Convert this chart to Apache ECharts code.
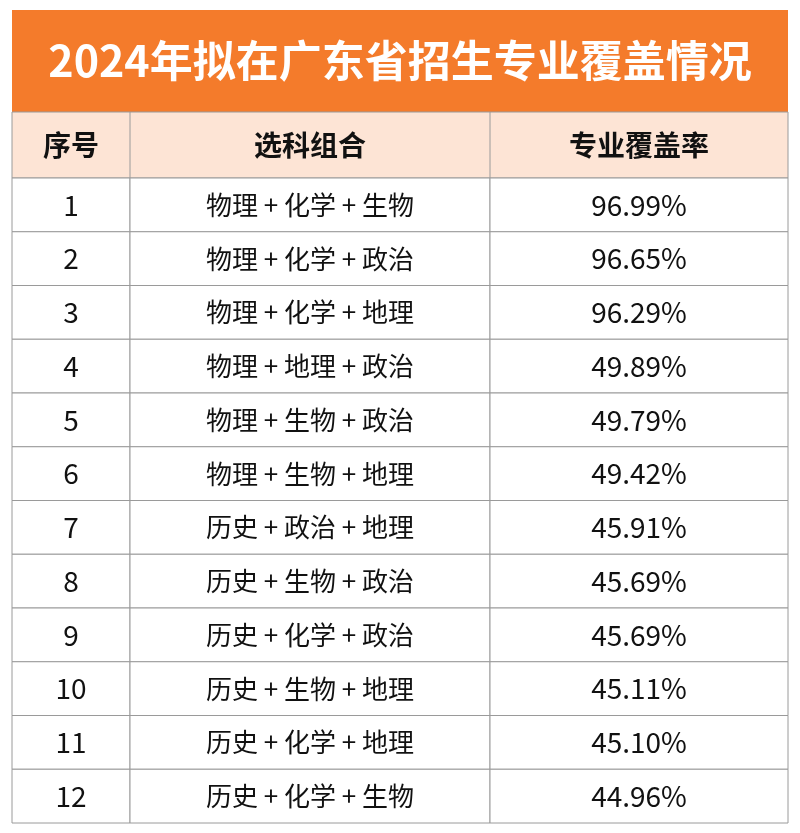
<!DOCTYPE html>
<html><head><meta charset="utf-8">
<script src="https://cdn.jsdelivr.net/npm/echarts@6/dist/echarts.min.js"></script>
<style>html,body{margin:0;background:#fff}#c{width:800px;height:833px}</style>
</head><body><div id="c"></div>
<script>
const title = '2024年拟在广东省招生专业覆盖情况';
const headers = ['序号', '选科组合', '专业覆盖率'];
const ids = ['1','2','3','4','5','6','7','8','9','10','11','12'];
const combos = ['物理+化学+生物','物理+化学+政治','物理+化学+地理','物理+地理+政治','物理+生物+政治','物理+生物+地理','历史+政治+地理','历史+生物+政治','历史+化学+政治','历史+生物+地理','历史+化学+地理','历史+化学+生物'];
const rates = [96.99, 96.65, 96.29, 49.89, 49.79, 49.42, 45.91, 45.69, 45.69, 45.11, 45.10, 44.96];

const colEdges = [0, 118, 478, 776];
const font = '"Noto Sans CJK SC", sans-serif';
const chart = echarts.init(document.getElementById('c'));
const L = 12, R = 788, T = 10, TB = 112, HB = 178;
const headerCenters = [0,1,2].map(i => L + (colEdges[i] + colEdges[i+1]) / 2);

chart.setOption({
  animation: false,
  grid: { left: L, right: 800 - R, top: HB, bottom: 10 },
  xAxis: { type: 'value', min: 0, max: 776, show: false },
  yAxis: { type: 'category', data: ids, inverse: true, show: false },
  graphic: [
    { type: 'rect', shape: { x: L, y: T, width: R - L, height: TB - T }, style: { fill: '#f47b2b' } },
    { type: 'text', x: 400, y: (T + TB) / 2, style: { text: title, fill: '#fff', font: 'bold 43px ' + font, textAlign: 'center', textVerticalAlign: 'middle' } },
    { type: 'rect', shape: { x: L, y: TB, width: R - L, height: HB - TB }, style: { fill: '#fde4d5', stroke: '#9a9a9a', lineWidth: 1 } },
    ...[1,2].map(i => ({ type: 'line', shape: { x1: L + colEdges[i], y1: TB, x2: L + colEdges[i], y2: HB }, style: { stroke: '#9a9a9a', lineWidth: 1 } })),
    ...headers.map((h, i) => ({ type: 'text', x: headerCenters[i], y: (TB + HB) / 2, style: { text: h, fill: '#111', font: 'bold 28px ' + font, textAlign: 'center', textVerticalAlign: 'middle' } }))
  ],
  series: [{
    type: 'custom',
    data: ids.map((id, i) => [i]),
    renderItem: (params, api) => {
      const i = api.value(0);
      const c = api.coord([0, i]);
      const h = api.size([0, 1])[1];
      const y0 = c[1] - h / 2;
      const texts = [ids[i], combos[i].split('+').join(' + '), rates[i].toFixed(2) + '%'];
      const children = [];
      for (let k = 0; k < 3; k++) {
        const x0 = api.coord([colEdges[k], i])[0];
        const x1 = api.coord([colEdges[k + 1], i])[0];
        children.push({ type: 'rect', shape: { x: x0, y: y0, width: x1 - x0, height: h }, style: { fill: '#fff', stroke: '#9a9a9a', lineWidth: 1 } });
        children.push({ type: 'text', x: (x0 + x1) / 2, y: c[1], style: { text: texts[k], fill: '#111', font: (k === 1 ? '26px ' : '28px ') + font, textAlign: 'center', textVerticalAlign: 'middle' } });
      }
      return { type: 'group', children };
    }
  }]
});
</script></body></html>
